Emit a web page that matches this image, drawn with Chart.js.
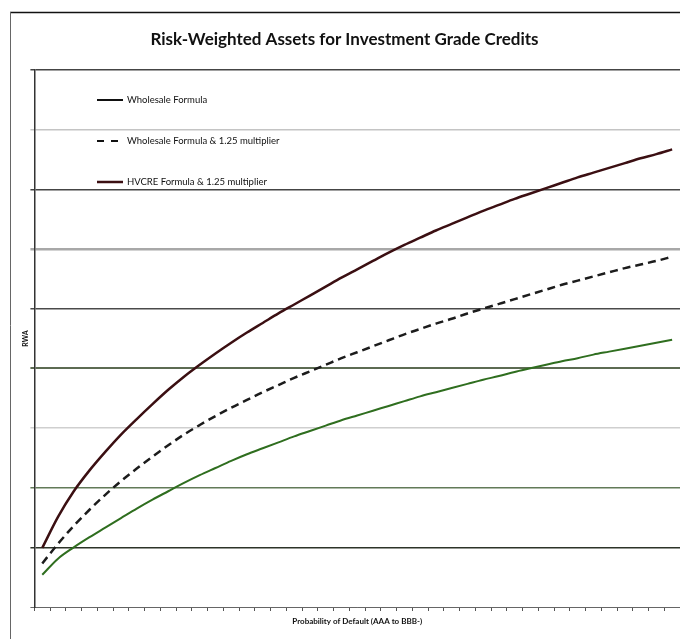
<!DOCTYPE html>
<html>
<head>
<meta charset="utf-8">
<script src="https://cdn.jsdelivr.net/npm/chart.js@4/dist/chart.umd.min.js"></script>
<style>
  html, body { margin: 0; padding: 0; background: #fff; }
  #wrap { width: 680px; height: 639px; }
</style>
</head>
<body>
<div id="wrap"><canvas id="rwaChart" width="680" height="639"></canvas></div>
<script>
// PD buckets along the x axis (AAA to BBB-), unlabeled in the original
const pdSteps = ['1','2','3','4','5','6','7','8','9','10','11','12','13','14','15','16','17','18','19','20',
  '21','22','23','24','25','26','27','28','29','30','31','32','33','34','35','36','37','38','39','40','41'];

// RWA (gridline units, 0..9)
const wholesale = [0.54, 0.81, 1.00, 1.17, 1.33, 1.49, 1.65, 1.80, 1.94, 2.08, 2.21, 2.33, 2.45, 2.56,
  2.66, 2.76, 2.86, 2.95, 3.04, 3.13, 3.21, 3.29, 3.37, 3.45, 3.53, 3.60, 3.67, 3.74, 3.81, 3.87,
  3.94, 4.00, 4.06, 4.12, 4.17, 4.23, 4.28, 4.33, 4.38, 4.43, 4.48];

const wholesale125 = [0.73, 1.06, 1.36, 1.63, 1.88, 2.11, 2.32, 2.52, 2.71, 2.89, 3.05, 3.20, 3.34, 3.47,
  3.60, 3.72, 3.84, 3.95, 4.06, 4.17, 4.27, 4.37, 4.47, 4.57, 4.66, 4.75, 4.83, 4.92, 5.00, 5.08,
  5.16, 5.24, 5.32, 5.40, 5.47, 5.54, 5.61, 5.68, 5.74, 5.80, 5.87];

const hvcre125 = [0.99, 1.51, 1.94, 2.29, 2.60, 2.89, 3.15, 3.40, 3.64, 3.86, 4.06, 4.25, 4.43, 4.60,
  4.76, 4.92, 5.07, 5.22, 5.37, 5.52, 5.66, 5.80, 5.94, 6.07, 6.19, 6.31, 6.42, 6.53, 6.64, 6.74,
  6.84, 6.93, 7.02, 7.11, 7.20, 7.28, 7.36, 7.44, 7.52, 7.59, 7.67];

const seriesNames = ['Wholesale Formula', 'Wholesale Formula & 1.25 multiplier', 'HVCRE Formula & 1.25 multiplier'];

// horizontal gridline colours, bottom (0) to top (9) - the scan has them uneven
const gridColors = ['#666', '#2c3328', '#627a58', '#cfcfcf', '#5c6b52', '#4a4a4a', '#a8a8a8', '#444', '#c4c4c4', '#444'];
const gridWidths = [1, 1.5, 1.5, 1.5, 2, 1.5, 2.5, 1.5, 1.5, 1.5];

const face = 'Lato, "Open Sans", Arial, sans-serif';

// page frame lines (top and left edge of the embedded chart object)
const framePlugin = {
  id: 'frame',
  beforeDraw(chart) {
    const c = chart.ctx;
    c.save();
    c.strokeStyle = '#111';
    c.lineWidth = 1.5;
    c.beginPath();
    c.moveTo(10, 12.5);
    c.lineTo(chart.width, 12.5);
    c.stroke();
    c.strokeStyle = '#666';
    c.lineWidth = 1;
    c.beginPath();
    c.moveTo(10.5, 12);
    c.lineTo(10.5, chart.height);
    c.stroke();
    c.restore();
  }
};

// legend sits inside the plot, stacked with wide gaps
const innerLegend = {
  id: 'innerLegend',
  afterDatasetsDraw(chart) {
    const c = chart.ctx;
    const rows = [100, 141, 182];
    const samples = [
      { color: '#111', dash: [], width: 2 },
      { color: '#111', dash: [7, 7], width: 2 },
      { color: '#3b0f12', dash: [], width: 2.5 }
    ];
    c.save();
    c.font = '9.5px ' + face;
    c.textBaseline = 'middle';
    c.fillStyle = '#111';
    seriesNames.forEach((name, i) => {
      const s = samples[i];
      c.strokeStyle = s.color;
      c.lineWidth = s.width;
      c.setLineDash(s.dash);
      c.beginPath();
      c.moveTo(97, rows[i]);
      c.lineTo(123, rows[i]);
      c.stroke();
      c.setLineDash([]);
      c.fillText(name, 127, rows[i]);
    });
    c.restore();
  }
};

new Chart(document.getElementById('rwaChart'), {
  type: 'line',
  data: {
    labels: pdSteps,
    datasets: [
      {
        label: seriesNames[0],
        data: wholesale,
        borderColor: '#2f6e1f',
        borderWidth: 2,
        pointRadius: 0,
        cubicInterpolationMode: 'monotone'
      },
      {
        label: seriesNames[1],
        data: wholesale125,
        borderColor: '#1c1c1c',
        borderWidth: 2.5,
        borderDash: [8, 5],
        pointRadius: 0,
        cubicInterpolationMode: 'monotone'
      },
      {
        label: seriesNames[2],
        data: hvcre125,
        borderColor: '#3b0f12',
        borderWidth: 2.5,
        pointRadius: 0,
        cubicInterpolationMode: 'monotone'
      }
    ]
  },
  options: {
    responsive: false,
    animation: false,
    layout: { padding: { left: 9, right: 0, top: 0, bottom: 0 } },
    plugins: {
      legend: { display: false },
      tooltip: { enabled: false },
      title: {
        display: true,
        text: 'Risk-Weighted Assets for Investment Grade Credits',
        color: '#111',
        font: { family: face, size: 17, weight: 'bold', lineHeight: 1.2 },
        padding: { top: 29.8, bottom: 19.8 }
      }
    },
    scales: {
      x: {
        offset: true,
        grid: {
          offset: true,
          drawOnChartArea: false,
          drawTicks: true,
          tickLength: 4,
          color: '#555'
        },
        border: { display: true, color: '#666', width: 1 },
        ticks: { display: false, autoSkip: false },
        title: {
          display: true,
          text: 'Probability of Default (AAA to BBB-)',
          color: '#111',
          font: { family: face, size: 8, weight: 'bold', lineHeight: 1.2 },
          padding: { top: 5.4, bottom: 13 }
        }
      },
      y: {
        min: 0,
        max: 9,
        ticks: { display: false, stepSize: 1 },
        grid: {
          drawTicks: true,
          tickLength: 4,
          color: ctx => gridColors[ctx.index] || '#666',
          lineWidth: ctx => gridWidths[ctx.index] || 1
        },
        border: { display: true, color: '#333', width: 1.5 },
        title: {
          display: true,
          text: 'RWA',
          color: '#111',
          font: { family: face, size: 7, weight: 'bold', lineHeight: 1.2 },
          padding: { top: 13, bottom: 0 }
        }
      }
    }
  },
  plugins: [framePlugin, innerLegend]
});
</script>
</body>
</html>
